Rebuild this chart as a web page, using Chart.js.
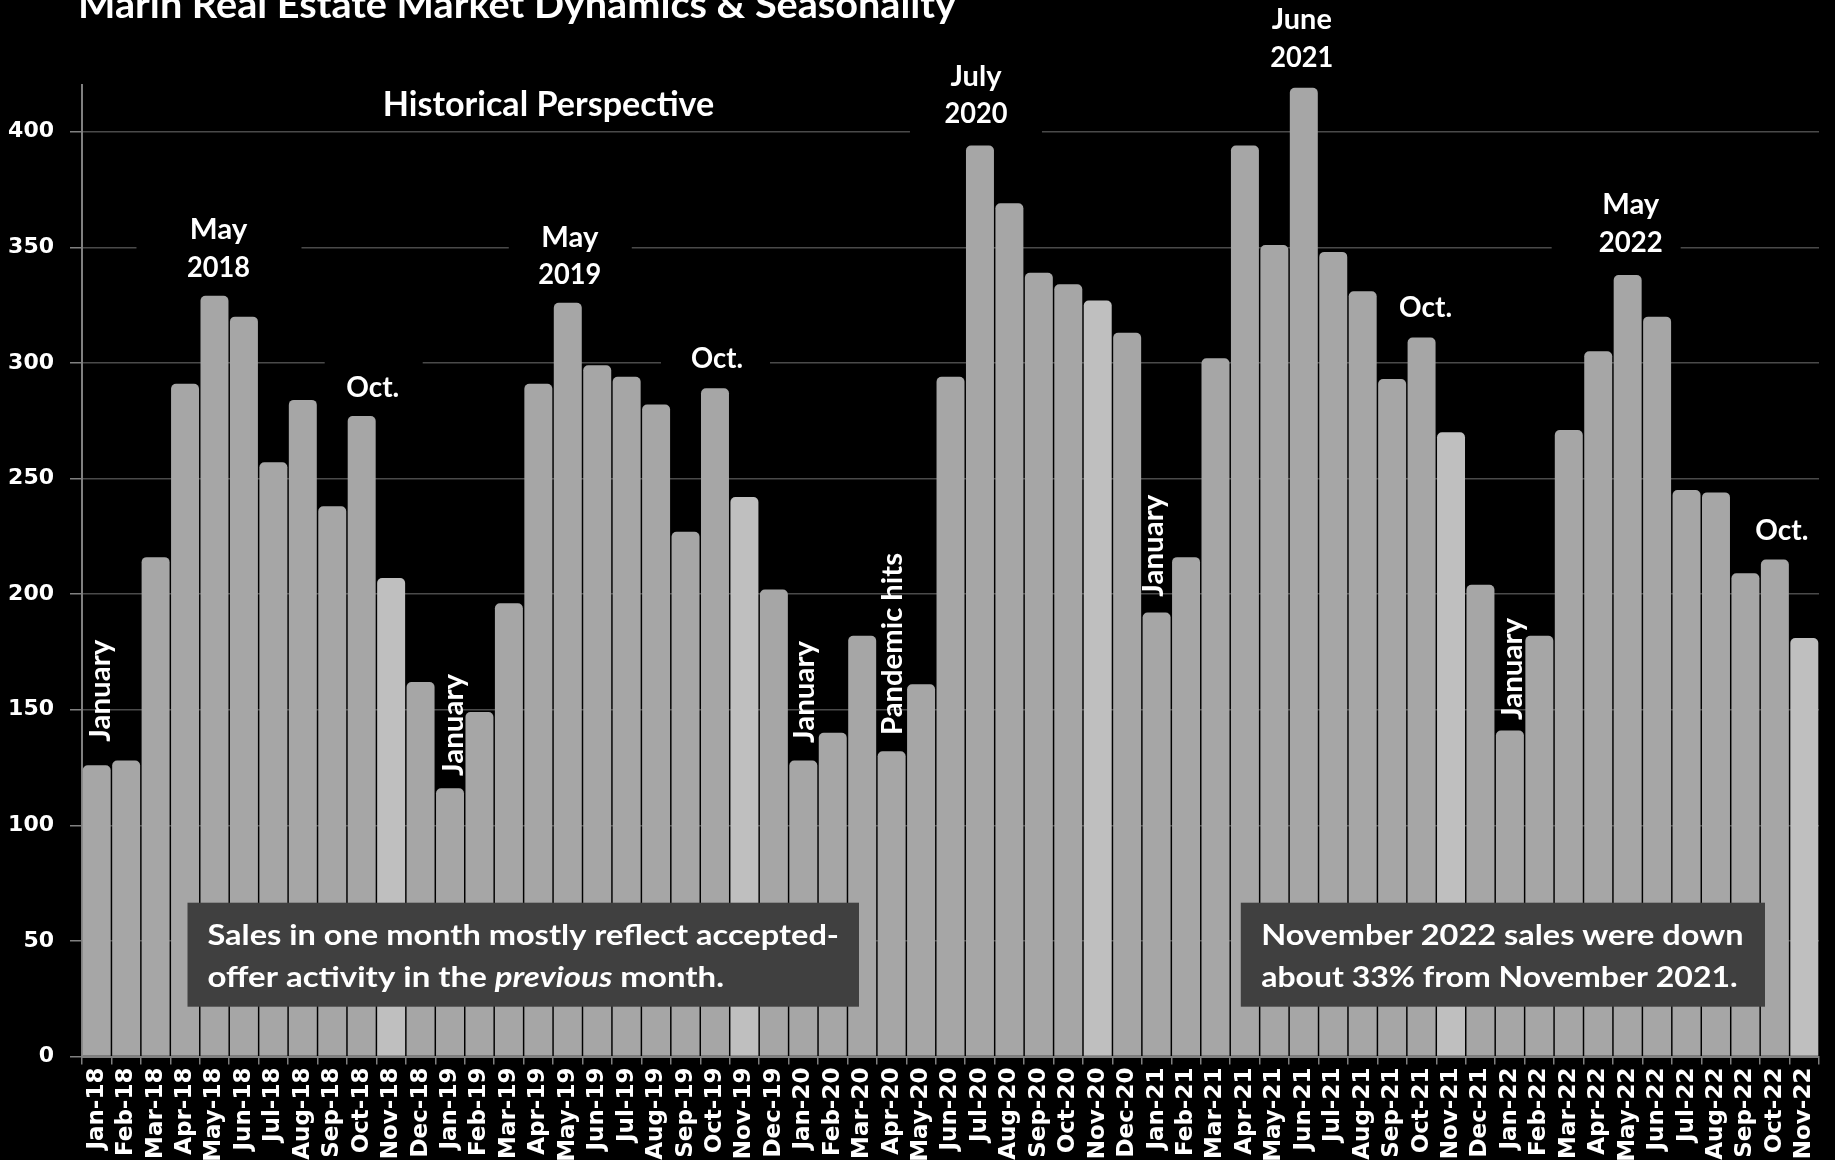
<!DOCTYPE html>
<html>
<head>
<meta charset="utf-8">
<title>Marin Real Estate Market Dynamics &amp; Seasonality</title>
<script src="https://cdn.jsdelivr.net/npm/chart.js@4.4.1/dist/chart.umd.min.js"></script>
<style>
  html, body { margin: 0; padding: 0; background: #000; overflow: hidden; }
  canvas { display: block; }
</style>
</head>
<body>
<canvas id="sales" width="1835" height="1160"></canvas>
<script>
// Monthly home sales, Marin County, Jan 2018 - Nov 2022
const months = [
  'Jan-18','Feb-18','Mar-18','Apr-18','May-18','Jun-18','Jul-18','Aug-18','Sep-18','Oct-18','Nov-18','Dec-18',
  'Jan-19','Feb-19','Mar-19','Apr-19','May-19','Jun-19','Jul-19','Aug-19','Sep-19','Oct-19','Nov-19','Dec-19',
  'Jan-20','Feb-20','Mar-20','Apr-20','May-20','Jun-20','Jul-20','Aug-20','Sep-20','Oct-20','Nov-20','Dec-20',
  'Jan-21','Feb-21','Mar-21','Apr-21','May-21','Jun-21','Jul-21','Aug-21','Sep-21','Oct-21','Nov-21','Dec-21',
  'Jan-22','Feb-22','Mar-22','Apr-22','May-22','Jun-22','Jul-22','Aug-22','Sep-22','Oct-22','Nov-22'
];
const sales2018 = [126, 128, 216, 291, 329, 320, 257, 284, 238, 277, 207, 162];
const sales2019 = [116, 149, 196, 291, 326, 299, 294, 282, 227, 289, 242, 202];
const sales2020 = [128, 140, 182, 132, 161, 294, 394, 369, 339, 334, 327, 313];
const sales2021 = [192, 216, 302, 394, 351, 419, 348, 331, 293, 311, 270, 204];
const sales2022 = [141, 182, 271, 305, 338, 320, 245, 244, 209, 215, 181];
const sales = [...sales2018, ...sales2019, ...sales2020, ...sales2021, ...sales2022];

const yTicksMax = 420;
const yTickStep = 50;

// November bars are shown in a lighter grey
const barGrey = '#a6a6a6';
const novemberGrey = '#bfbfbf';
const barColors = months.map(m => m.startsWith('Nov') ? novemberGrey : barGrey);

const noteFont = 'Lato, "Open Sans", sans-serif';

// Peak / seasonal call-outs above the bars
const peakNotes = [
  { month: 'May-18', dx: 4,  lines: [['May', 239, 57.6], ['2018', 276.5, 63]], mask: [-82, 83, 205, 292] },
  { month: 'Oct-18', dx: 11, lines: [['Oct.', 397, 53]], mask: [-48, 50, 350, 410] },
  { month: 'May-19', dx: 2,  lines: [['May', 246.7, 57], ['2019', 284.2, 63]], mask: [-61, 62, 212, 296] },
  { month: 'Oct-19', dx: 2,  lines: [['Oct.', 368.4, 52]], mask: [-56, 53, 325, 380] },
  { month: 'Jul-20', dx: -4, lines: [['July', 86, 51], ['2020', 123.2, 63]], mask: [-66, 66, 45, 140] },
  { month: 'Jun-21', dx: -2, lines: [['June', 28.7, 60], ['2021', 67, 63]] },
  { month: 'Oct-21', dx: 4,  lines: [['Oct.', 316.7, 53]] },
  { month: 'May-22', dx: 3,  lines: [['May', 214.3, 57], ['2022', 251.6, 64]], mask: [-79, 50, 180, 262] },
  { month: 'Oct-22', dx: 7,  lines: [['Oct.', 539.7, 53]] }
];

// Vertical notes sitting on top of individual bars
const sideNotes = [
  { month: 'Jan-18', dx: 13,  text: 'January', start: 741.7, len: 102 },
  { month: 'Jan-19', dx: 12.7, text: 'January', start: 776, len: 102 },
  { month: 'Jan-20', dx: 11,  text: 'January', start: 743, len: 102 },
  { month: 'Apr-20', dx: 10.6, text: 'Pandemic hits', start: 735, len: 182 },
  { month: 'Jan-21', dx: 6.5, text: 'January', start: 596.7, len: 102 },
  { month: 'Jan-22', dx: 11.7, text: 'January', start: 720, len: 102 }
];

// Grey comment boxes along the bottom of the plot
const commentBoxes = [
  { rect: [187.5, 902.7, 859, 1006.7], left: 207.4,
    lines: [
      { y: 945, w: 631.6, parts: [['Sales in one month mostly reflect accepted-', false]] },
      { y: 986.7, w: 516.6, parts: [['offer activity in the ', false], ['previous', true], [' month.', false]] }
    ] },
  { rect: [1240.8, 902.7, 1765, 1006.7], left: 1261.2,
    lines: [
      { y: 945, w: 482.3, parts: [['November 2022 sales were down', false]] },
      { y: 986.7, w: 476.4, parts: [['about 33% from November 2021.', false]] }
    ] }
];

function font(size, italic) {
  return (italic ? 'italic ' : '') + 'bold ' + size + 'px ' + noteFont;
}

// Draw text squeezed/stretched horizontally to a given width
function fitText(ctx, text, x, y, size, width, align) {
  ctx.font = font(size, false);
  const natural = ctx.measureText(text).width;
  const sx = width / natural;
  ctx.save();
  ctx.translate(x, y);
  ctx.scale(sx, 1);
  ctx.textAlign = align || 'center';
  ctx.textBaseline = 'alphabetic';
  ctx.fillText(text, 0, 0);
  ctx.restore();
}

const notesPlugin = {
  id: 'marketNotes',
  beforeDatasetsDraw(chart) {
    const { ctx } = chart;
    const x = chart.scales.x;
    ctx.save();
    ctx.fillStyle = '#000';
    peakNotes.forEach(n => {
      if (!n.mask) return;
      const cx = x.getPixelForValue(months.indexOf(n.month)) + n.dx;
      const [l, r, t, b] = n.mask;
      ctx.fillRect(cx + l, t, r - l, b - t);
    });
    ctx.restore();
  },
  afterDatasetsDraw(chart) {
    const { ctx } = chart;
    const x = chart.scales.x;
    ctx.save();
    ctx.fillStyle = '#ffffff';

    // chart heading (runs off the top edge)
    fitText(ctx, 'Marin Real Estate Market Dynamics & Seasonality', 78, 17.5, 38, 878, 'left');
    fitText(ctx, 'Historical Perspective', 548.5, 116, 34, 331.6, 'center');

    peakNotes.forEach(n => {
      const cx = x.getPixelForValue(months.indexOf(n.month)) + n.dx;
      n.lines.forEach(([txt, base, w]) => fitText(ctx, txt, cx, base, 28, w, 'center'));
    });

    sideNotes.forEach(n => {
      const bx = x.getPixelForValue(months.indexOf(n.month)) + n.dx;
      ctx.save();
      ctx.translate(bx, n.start);
      ctx.rotate(-Math.PI / 2);
      fitText(ctx, n.text, 0, 0, 29, n.len, 'left');
      ctx.restore();
    });

    commentBoxes.forEach(box => {
      const [x0, y0, x1, y1] = box.rect;
      ctx.fillStyle = '#404040';
      ctx.fillRect(x0, y0, x1 - x0, y1 - y0);
      ctx.fillStyle = '#ffffff';
      box.lines.forEach(line => {
        let natural = 0;
        line.parts.forEach(([t, it]) => { ctx.font = font(28, it); natural += ctx.measureText(t).width; });
        const sx = line.w / natural;
        let cursor = 0;
        ctx.save();
        ctx.translate(box.left, line.y);
        ctx.scale(sx, 1);
        ctx.textAlign = 'left';
        ctx.textBaseline = 'alphabetic';
        line.parts.forEach(([t, it]) => {
          ctx.font = font(28, it);
          ctx.fillText(t, cursor, 0);
          cursor += ctx.measureText(t).width;
        });
        ctx.restore();
      });
    });
    ctx.restore();
  }
};

new Chart(document.getElementById('sales'), {
  type: 'bar',
  data: {
    labels: months,
    datasets: [{
      data: sales,
      backgroundColor: barColors,
      borderWidth: 0,
      borderRadius: 5,
      borderSkipped: 'start',
      barPercentage: 0.95,
      categoryPercentage: 1
    }]
  },
  options: {
    responsive: false,
    animation: false,
    devicePixelRatio: 1,
    layout: { padding: { top: 85.4, right: 10, left: 0, bottom: 0 } },
    plugins: {
      legend: { display: false },
      tooltip: { enabled: false },
      title: { display: false }
    },
    scales: {
      x: {
        offset: true,
        grid: { display: true, drawOnChartArea: false, offset: true, tickColor: '#808080', tickLength: 8, lineWidth: 1.5 },
        border: { color: '#808080', width: 2 },
        ticks: {
          color: '#ffffff',
          font: { family: '"DejaVu Sans", Verdana, sans-serif', weight: 'bold', size: 23 },
          minRotation: 90,
          maxRotation: 90,
          autoSkip: false,
          padding: 3
        },
        afterFit(scale) { scale.height = 103.4; }
      },
      y: {
        min: 0,
        max: yTicksMax,
        ticks: {
          stepSize: yTickStep,
          includeBounds: false,
          color: '#ffffff',
          font: { family: '"DejaVu Sans", Verdana, sans-serif', weight: 'bold', size: 22 },
          padding: 16
        },
        grid: { color: '#4a4a4a', lineWidth: 1.5, tickColor: '#808080', tickLength: 12 },
        border: { color: '#808080', width: 2 },
        afterFit(scale) { scale.width = 82; }
      }
    }
  },
  plugins: [notesPlugin]
});
</script>
</body>
</html>
